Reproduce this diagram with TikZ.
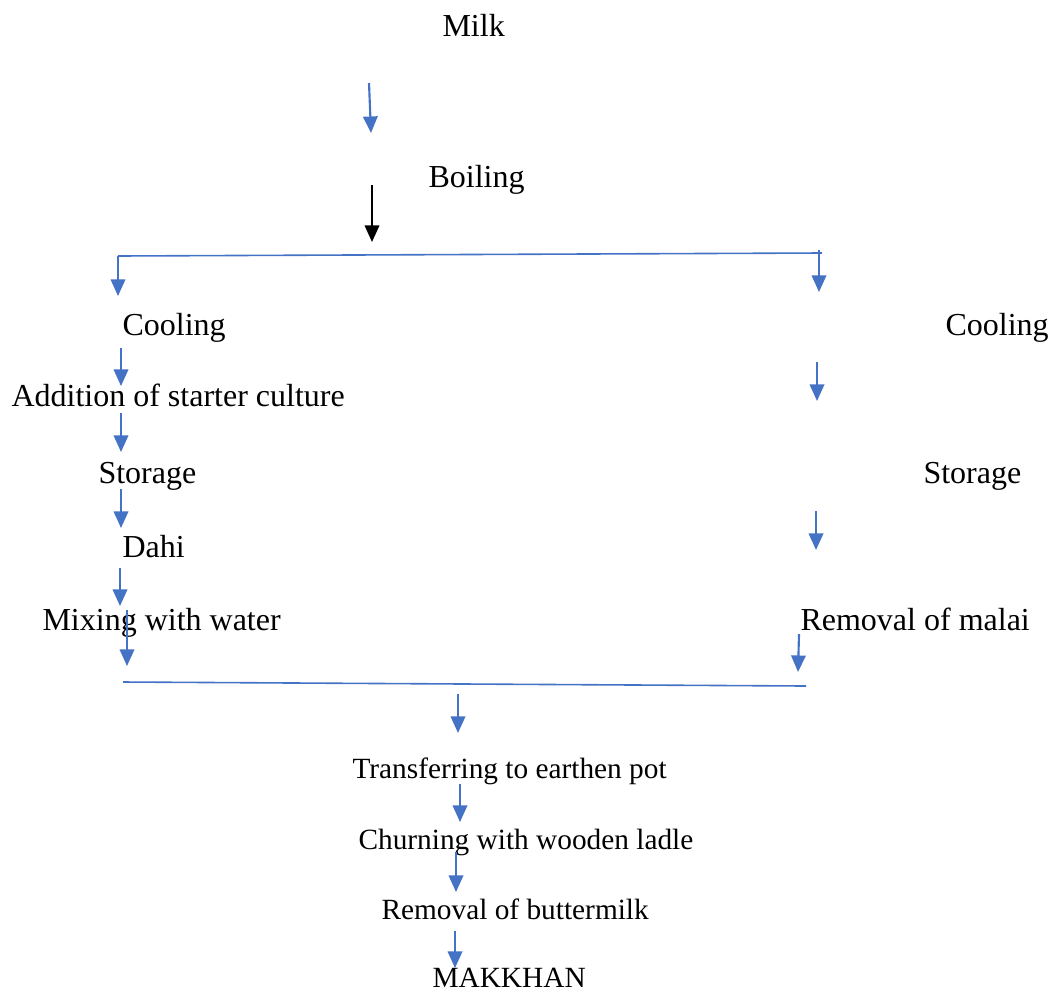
\documentclass[tikz,border=0pt]{standalone}
\usepackage{fontspec}
\setmainfont{Liberation Serif}
\usetikzlibrary{arrows.meta}
\definecolor{wordblue}{HTML}{4472C4}
\begin{document}
\begin{tikzpicture}[x=0.375pt,y=-0.375pt,
  stage/.style={anchor=base west,inner sep=0pt,font=\fontsize{12}{14}\selectfont},
  substage/.style={stage,font=\fontsize{11}{13}\selectfont},
  flow/.style={wordblue,line width=0.8pt,-{Triangle[width=5.4pt,length=6.2pt]}},
  joinline/.style={wordblue,line width=0.6pt}]
\useasboundingbox (0,0) rectangle (1054,992);
% stages
\node[stage] (milk) at (442,37) {Milk};
\node[stage] (boiling) at (428,187) {Boiling};
\node[stage] (coolL) at (122,335) {Cooling};
\node[stage] (culture) at (11,406) {Addition of starter culture};
\node[stage] (storeL) at (98,483) {Storage};
\node[stage] (dahi) at (122,557) {Dahi};
\node[stage] (mixing) at (42,630) {Mixing with water};
\node[stage] (coolR) at (945,335) {Cooling};
\node[stage] (storeR) at (923,483) {Storage};
\node[stage] (malai) at (800,630) {Removal of malai};
\node[substage] (pot) at (352,778) {Transferring to earthen pot};
\node[substage] (churn) at (358,849) {Churning with wooden ladle};
\node[substage] (butter) at (381,919) {Removal of buttermilk};
\node[substage] (makkhan) at (432,987) {MAKKHAN};
% split and merge lines
\coordinate (split-l) at (118,256);
\coordinate (split-r) at (822,253);
\coordinate (merge-l) at (123,682);
\coordinate (merge-r) at (806,686);
\draw[joinline] (split-l) -- (split-r);
\draw[joinline] (merge-l) -- (merge-r);
% arrows
\coordinate (b-top) at (372,185);
\coordinate (b-tip) at (372,242);
\draw[flow,black] (b-top) -- (b-tip);
\foreach \n/\sx/\sy/\ex/\ey in {1/369/83/371/133,2/118/256/118/296,3/819/250/819/292,
  4/121/348/121/386,5/121/413/121/452,6/121/489/121/528,7/120/568/120/606,
  8/127/610/127/666,9/817/362/817/401,10/816/511/816/550,11/799/634/798/672,
  12/458/694/458/733,13/460/784/460/822,14/456/852/456/892,15/455/931/455/968}
{
\coordinate (a\n-top) at (\sx,\sy);
\coordinate (a\n-tip) at (\ex,\ey);
\draw[flow] (a\n-top) -- (a\n-tip);
}
\end{tikzpicture}
\end{document}
